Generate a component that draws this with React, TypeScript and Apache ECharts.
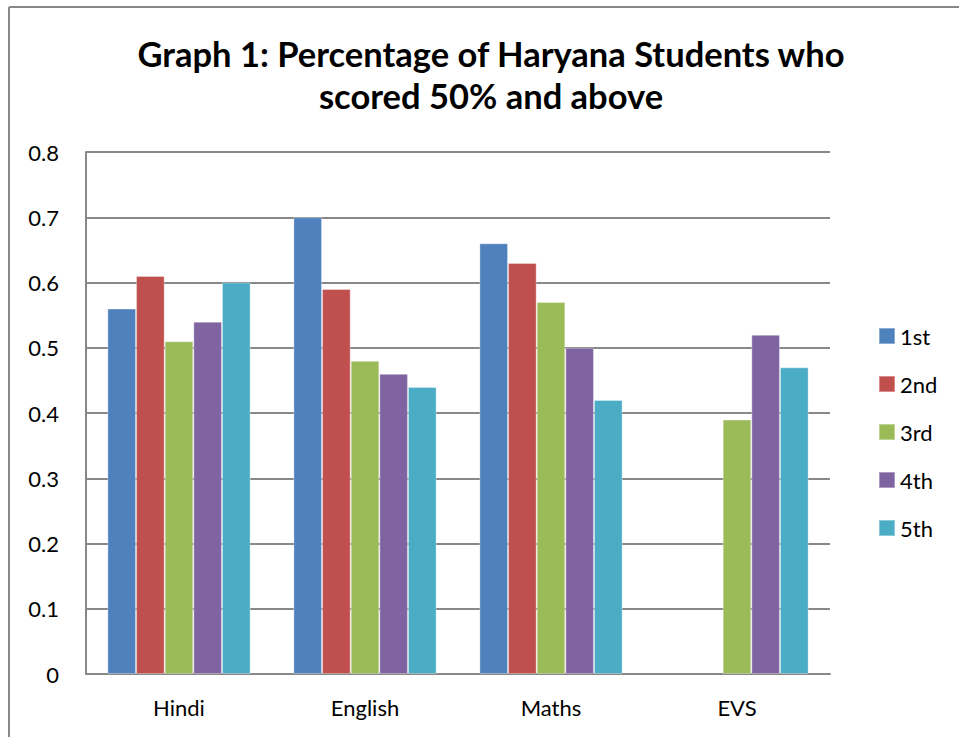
import React, { useEffect, useRef } from "react";
import * as echarts from "echarts";

const categories = ["Hindi", "English", "Maths", "EVS"];
const seriesNames = ["1st", "2nd", "3rd", "4th", "5th"];
const s1 = [0.56, 0.70, 0.66, null];
const s2 = [0.61, 0.59, 0.63, null];
const s3 = [0.51, 0.48, 0.57, 0.39];
const s4 = [0.54, 0.46, 0.50, 0.52];
const s5 = [0.60, 0.44, 0.42, 0.47];
const colors = ["#4F81BD", "#C0504D", "#9BBB59", "#8064A2", "#4BACC6"];

export default function App() {
  const ref = useRef<HTMLDivElement>(null);
  useEffect(() => {
    if (!ref.current) return;
    const chart = echarts.init(ref.current, null, { renderer: "svg" });
    const data = [s1, s2, s3, s4, s5];
    const font = "Lato, 'Open Sans', sans-serif";
    chart.setOption({
      animation: false,
      backgroundColor: "#ffffff",
      textStyle: { fontFamily: font },
      title: {
        text: "Graph 1: Percentage of Haryana Students who\nscored 50% and above",
        left: 486,
        textAlign: "center",
        top: 27,
        textStyle: { fontSize: 34.5, fontWeight: "bold", color: "#000", lineHeight: 42, fontFamily: font },
      },
      graphic: [
        { type: "line", shape: { x1: 9, y1: 7, x2: 9, y2: 737 }, style: { stroke: "#888", lineWidth: 2 } },
        { type: "line", shape: { x1: 9, y1: 7, x2: 959, y2: 7 }, style: { stroke: "#888", lineWidth: 2 } },
      ],
      legend: {
        orient: "vertical",
        left: 873,
        top: 320,
        itemWidth: 16,
        itemHeight: 16,
        itemGap: 26,
        itemTextGap: 6,
        icon: "rect",
        textStyle: { fontSize: 22, lineHeight: 22, color: "#000", fontFamily: font },
        data: seriesNames,
      },
      grid: { left: 86, right: 129, top: 152, bottom: 63, containLabel: false },
      xAxis: {
        type: "category",
        data: categories,
        axisLine: { lineStyle: { color: "#888", width: 2 } },
        axisTick: { show: false },
        axisLabel: { fontSize: 22, color: "#000", margin: 22, fontFamily: font },
      },
      yAxis: {
        type: "value",
        min: 0,
        max: 0.8,
        interval: 0.1,
        axisLine: { show: true, lineStyle: { color: "#888", width: 2 } },
        axisTick: { show: false },
        splitLine: { lineStyle: { color: "#888", width: 2 } },
        axisLabel: {
          fontSize: 22,
          color: "#000",
          margin: 27,
          fontFamily: font,
          formatter: (v: number) => (v === 0 ? "0" : v.toFixed(1)),
        },
      },
      series: seriesNames.map((name, i) => ({
        name,
        type: "bar",
        data: data[i],
        barGap: "0%",
        barCategoryGap: "23%",
        itemStyle: { color: colors[i], borderColor: "rgba(255,255,255,0.35)", borderWidth: 1 },
      })),
    });
    return () => chart.dispose();
  }, []);
  return <div ref={ref} style={{ position: "absolute", left: 0, top: 0, width: 959, height: 737 }} />;
}
